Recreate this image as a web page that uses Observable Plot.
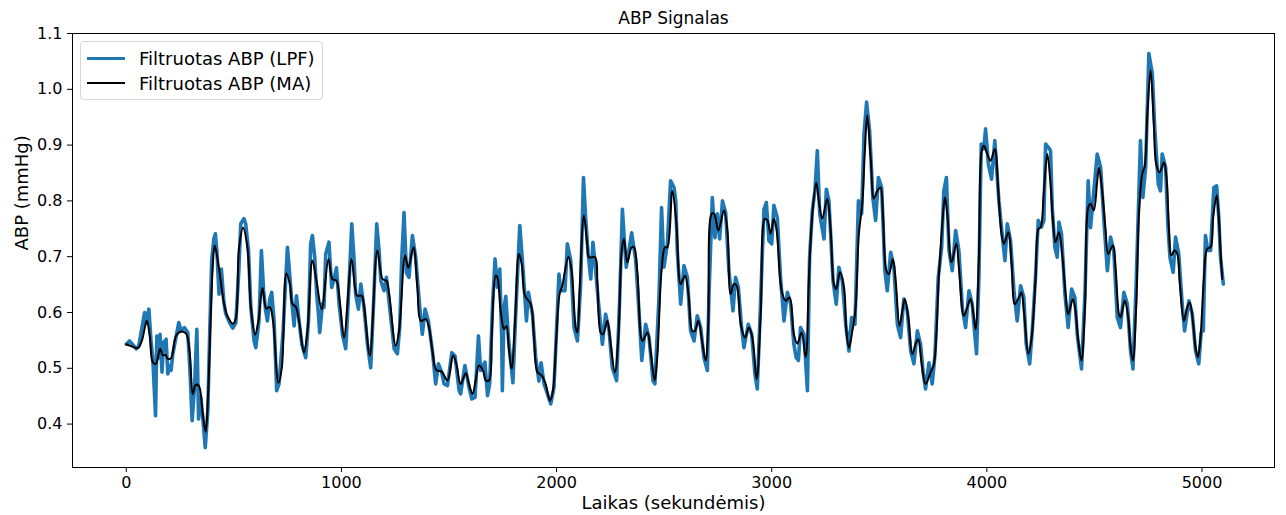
<!DOCTYPE html>
<html>
<head>
<meta charset="utf-8">
<script src="https://cdn.jsdelivr.net/npm/d3@7"></script>
<script src="https://cdn.jsdelivr.net/npm/@observablehq/plot@0.6"></script>
<style>
  body { margin: 0; background: #fff; font-family: "DejaVu Sans", sans-serif; }
  #chart { position: relative; width: 1286px; height: 515px; }
  .legend {
    position: absolute; left: 80px; top: 41px; width: 243px; height: 59px;
    box-sizing: border-box; border: 1px solid #d6d6d6; border-radius: 4px;
    background: rgba(255,255,255,0.8); font-size: 18px; color: #000;
  }
  .legend .row { position: absolute; left: 6px; height: 24px; display: flex; align-items: center; white-space: nowrap; }
  .legend .swatch { width: 38px; margin-right: 14px; }
</style>
</head>
<body>
<div id="chart"></div>
<script>
// Signal samples: [time (s), ABP value]
const lpfPoints = [[0,0.543],[15,0.549],[46,0.535],[58,0.540],[85,0.600],[92,0.580],[105,0.606],[115,0.549],[123,0.519],[136,0.415],[142,0.558],[151,0.519],[157,0.561],[166,0.493],[173,0.546],[185,0.552],[193,0.490],[201,0.505],[208,0.496],[216,0.525],[244,0.582],[255,0.567],[270,0.573],[286,0.564],[296,0.496],[306,0.406],[317,0.465],[328,0.570],[336,0.409],[346,0.448],[354,0.418],[367,0.358],[379,0.424],[388,0.567],[397,0.693],[407,0.732],[414,0.741],[421,0.711],[431,0.633],[442,0.678],[453,0.621],[462,0.598],[481,0.581],[495,0.572],[509,0.581],[523,0.675],[532,0.759],[547,0.768],[555,0.759],[568,0.711],[579,0.609],[594,0.549],[602,0.537],[617,0.585],[628,0.711],[638,0.640],[648,0.603],[656,0.585],[667,0.624],[676,0.636],[687,0.585],[699,0.460],[710,0.472],[729,0.567],[749,0.717],[757,0.681],[769,0.621],[780,0.576],[791,0.630],[803,0.585],[816,0.543],[834,0.519],[847,0.585],[857,0.723],[865,0.738],[876,0.699],[885,0.633],[893,0.598],[899,0.564],[912,0.616],[919,0.609],[927,0.705],[942,0.726],[955,0.645],[964,0.657],[977,0.680],[989,0.615],[1006,0.558],[1020,0.535],[1034,0.639],[1048,0.759],[1059,0.693],[1066,0.633],[1079,0.606],[1090,0.651],[1105,0.609],[1121,0.543],[1136,0.501],[1150,0.621],[1164,0.759],[1175,0.711],[1183,0.657],[1198,0.639],[1209,0.663],[1221,0.621],[1245,0.535],[1260,0.526],[1271,0.573],[1280,0.693],[1291,0.779],[1302,0.672],[1314,0.663],[1330,0.738],[1345,0.699],[1364,0.609],[1376,0.561],[1389,0.606],[1404,0.585],[1423,0.531],[1438,0.472],[1451,0.508],[1466,0.493],[1477,0.472],[1493,0.469],[1513,0.528],[1528,0.522],[1547,0.460],[1554,0.454],[1574,0.505],[1593,0.466],[1606,0.445],[1621,0.448],[1637,0.558],[1647,0.496],[1667,0.511],[1679,0.451],[1689,0.472],[1702,0.609],[1714,0.696],[1725,0.645],[1736,0.678],[1745,0.555],[1748,0.460],[1756,0.609],[1764,0.629],[1776,0.555],[1797,0.474],[1810,0.597],[1829,0.756],[1844,0.678],[1860,0.585],[1869,0.636],[1888,0.597],[1903,0.519],[1918,0.477],[1928,0.510],[1942,0.472],[1973,0.436],[1988,0.466],[1999,0.561],[2011,0.669],[2019,0.639],[2039,0.639],[2050,0.723],[2066,0.693],[2081,0.573],[2097,0.549],[2112,0.651],[2125,0.842],[2135,0.770],[2146,0.708],[2159,0.660],[2169,0.726],[2179,0.687],[2194,0.621],[2213,0.543],[2228,0.597],[2244,0.567],[2259,0.501],[2279,0.478],[2293,0.621],[2306,0.785],[2318,0.711],[2324,0.681],[2349,0.743],[2368,0.693],[2383,0.603],[2396,0.514],[2414,0.579],[2430,0.555],[2448,0.478],[2457,0.472],[2476,0.627],[2488,0.788],[2499,0.681],[2515,0.723],[2530,0.836],[2546,0.824],[2554,0.800],[2561,0.711],[2567,0.675],[2577,0.615],[2592,0.684],[2608,0.663],[2623,0.567],[2639,0.549],[2654,0.594],[2670,0.573],[2685,0.519],[2701,0.496],[2708,0.627],[2724,0.806],[2736,0.734],[2747,0.777],[2758,0.732],[2771,0.800],[2786,0.779],[2801,0.675],[2820,0.603],[2832,0.663],[2845,0.645],[2860,0.573],[2871,0.537],[2891,0.579],[2907,0.561],[2922,0.490],[2933,0.463],[2949,0.627],[2964,0.785],[2975,0.797],[2987,0.729],[3000,0.723],[3010,0.792],[3026,0.770],[3041,0.663],[3057,0.585],[3073,0.636],[3088,0.615],[3103,0.543],[3114,0.519],[3124,0.514],[3134,0.573],[3150,0.561],[3166,0.460],[3176,0.699],[3189,0.783],[3201,0.818],[3212,0.890],[3223,0.777],[3243,0.732],[3254,0.821],[3266,0.800],[3285,0.657],[3300,0.615],[3312,0.681],[3328,0.657],[3344,0.579],[3359,0.531],[3371,0.591],[3387,0.579],[3403,0.800],[3418,0.777],[3429,0.920],[3441,0.977],[3455,0.926],[3470,0.806],[3483,0.765],[3496,0.842],[3511,0.824],[3526,0.675],[3537,0.639],[3553,0.708],[3568,0.681],[3584,0.579],[3599,0.555],[3614,0.624],[3630,0.603],[3646,0.531],[3661,0.508],[3677,0.567],[3692,0.543],[3704,0.492],[3715,0.463],[3731,0.510],[3746,0.472],[3759,0.525],[3774,0.663],[3790,0.717],[3800,0.818],[3812,0.842],[3824,0.711],[3839,0.675],[3855,0.747],[3870,0.711],[3886,0.609],[3901,0.573],[3917,0.639],[3932,0.615],[3944,0.561],[3952,0.526],[3963,0.663],[3974,0.902],[3986,0.893],[3994,0.929],[4007,0.866],[4022,0.839],[4037,0.908],[4056,0.800],[4068,0.752],[4084,0.693],[4095,0.759],[4110,0.729],[4126,0.639],[4141,0.585],[4157,0.648],[4172,0.627],[4183,0.543],[4199,0.508],[4211,0.567],[4226,0.663],[4239,0.765],[4254,0.753],[4265,0.765],[4273,0.902],[4286,0.896],[4296,0.890],[4304,0.788],[4316,0.717],[4327,0.699],[4335,0.762],[4347,0.741],[4363,0.633],[4378,0.573],[4394,0.642],[4409,0.627],[4420,0.561],[4440,0.499],[4456,0.633],[4471,0.836],[4482,0.752],[4493,0.800],[4513,0.884],[4529,0.860],[4544,0.765],[4560,0.675],[4575,0.735],[4590,0.711],[4606,0.591],[4621,0.573],[4637,0.636],[4653,0.615],[4668,0.531],[4679,0.499],[4694,0.651],[4714,0.908],[4725,0.806],[4738,0.860],[4753,1.064],[4769,1.028],[4781,0.926],[4797,0.830],[4807,0.818],[4815,0.884],[4831,0.860],[4841,0.759],[4851,0.699],[4866,0.672],[4877,0.735],[4892,0.705],[4908,0.615],[4919,0.567],[4939,0.621],[4955,0.597],[4970,0.531],[4985,0.508],[4996,0.564],[5006,0.567],[5016,0.738],[5027,0.711],[5040,0.711],[5055,0.824],[5068,0.827],[5078,0.771],[5086,0.699],[5099,0.651]];

const maPoints = [[0,0.543],[21,0.540],[53,0.536],[72,0.549],[95,0.585],[109,0.558],[123,0.511],[138,0.508],[157,0.535],[170,0.523],[182,0.524],[193,0.517],[208,0.518],[231,0.558],[255,0.566],[278,0.562],[294,0.531],[309,0.454],[322,0.470],[337,0.469],[355,0.420],[369,0.386],[379,0.442],[393,0.598],[402,0.684],[411,0.720],[431,0.679],[454,0.616],[470,0.594],[496,0.580],[509,0.589],[524,0.716],[543,0.752],[563,0.716],[579,0.609],[599,0.560],[614,0.585],[633,0.644],[651,0.607],[667,0.610],[682,0.585],[707,0.474],[723,0.501],[744,0.670],[760,0.652],[772,0.616],[788,0.610],[803,0.585],[826,0.528],[842,0.567],[865,0.693],[884,0.657],[908,0.606],[940,0.696],[958,0.660],[977,0.657],[992,0.621],[1012,0.555],[1047,0.696],[1063,0.645],[1074,0.630],[1094,0.630],[1105,0.612],[1132,0.523],[1167,0.711],[1191,0.660],[1209,0.657],[1221,0.636],[1252,0.540],[1268,0.567],[1296,0.702],[1311,0.680],[1335,0.717],[1353,0.645],[1369,0.585],[1392,0.588],[1407,0.573],[1423,0.531],[1441,0.497],[1466,0.494],[1493,0.478],[1519,0.523],[1534,0.508],[1554,0.472],[1578,0.491],[1593,0.472],[1609,0.454],[1624,0.478],[1639,0.505],[1658,0.496],[1671,0.478],[1686,0.478],[1699,0.561],[1717,0.666],[1725,0.663],[1740,0.603],[1756,0.570],[1767,0.576],[1779,0.531],[1791,0.499],[1807,0.585],[1825,0.705],[1838,0.687],[1853,0.630],[1880,0.615],[1895,0.555],[1911,0.493],[1931,0.487],[1949,0.472],[1969,0.442],[1983,0.460],[1999,0.555],[2014,0.633],[2027,0.648],[2039,0.675],[2055,0.700],[2070,0.675],[2089,0.573],[2097,0.564],[2107,0.639],[2127,0.774],[2143,0.720],[2151,0.699],[2179,0.699],[2190,0.651],[2205,0.564],[2216,0.561],[2236,0.585],[2248,0.555],[2271,0.493],[2287,0.555],[2303,0.711],[2313,0.732],[2329,0.690],[2349,0.717],[2360,0.717],[2376,0.669],[2399,0.549],[2422,0.564],[2437,0.531],[2456,0.478],[2468,0.520],[2488,0.675],[2504,0.717],[2515,0.717],[2538,0.818],[2557,0.759],[2577,0.651],[2597,0.666],[2613,0.633],[2631,0.567],[2643,0.567],[2659,0.585],[2678,0.544],[2693,0.514],[2705,0.579],[2721,0.777],[2732,0.777],[2752,0.747],[2778,0.783],[2794,0.747],[2809,0.633],[2824,0.651],[2837,0.648],[2856,0.579],[2876,0.555],[2894,0.573],[2910,0.555],[2930,0.481],[2949,0.597],[2968,0.768],[2980,0.765],[2995,0.741],[3010,0.768],[3023,0.747],[3046,0.639],[3065,0.621],[3083,0.627],[3103,0.561],[3119,0.544],[3139,0.564],[3158,0.520],[3173,0.663],[3189,0.777],[3207,0.833],[3219,0.800],[3235,0.768],[3258,0.804],[3274,0.747],[3289,0.651],[3300,0.642],[3317,0.672],[3336,0.645],[3347,0.567],[3359,0.537],[3375,0.567],[3390,0.609],[3405,0.741],[3421,0.795],[3433,0.890],[3444,0.953],[3460,0.878],[3475,0.804],[3491,0.818],[3506,0.824],[3517,0.777],[3533,0.675],[3545,0.669],[3563,0.696],[3576,0.657],[3594,0.576],[3607,0.603],[3619,0.624],[3635,0.591],[3653,0.526],[3669,0.544],[3681,0.552],[3697,0.508],[3715,0.472],[3739,0.493],[3754,0.508],[3777,0.666],[3793,0.759],[3805,0.806],[3816,0.777],[3836,0.690],[3858,0.723],[3870,0.681],[3893,0.594],[3909,0.609],[3924,0.624],[3940,0.591],[3948,0.570],[3963,0.699],[3976,0.890],[3986,0.899],[4002,0.884],[4017,0.872],[4037,0.893],[4053,0.818],[4068,0.741],[4079,0.723],[4100,0.744],[4115,0.687],[4130,0.615],[4149,0.627],[4161,0.636],[4172,0.603],[4193,0.526],[4208,0.555],[4226,0.657],[4240,0.750],[4250,0.753],[4265,0.818],[4281,0.884],[4296,0.830],[4307,0.765],[4319,0.726],[4335,0.744],[4350,0.705],[4366,0.633],[4378,0.597],[4400,0.624],[4412,0.603],[4425,0.549],[4440,0.514],[4456,0.609],[4471,0.788],[4482,0.795],[4497,0.783],[4513,0.836],[4521,0.860],[4536,0.818],[4552,0.747],[4564,0.705],[4586,0.720],[4598,0.681],[4614,0.597],[4621,0.591],[4641,0.621],[4657,0.591],[4668,0.537],[4679,0.514],[4694,0.609],[4707,0.777],[4722,0.848],[4734,0.863],[4746,0.956],[4761,1.034],[4776,0.938],[4787,0.866],[4803,0.851],[4823,0.869],[4835,0.842],[4846,0.753],[4857,0.702],[4872,0.711],[4885,0.705],[4897,0.651],[4916,0.585],[4931,0.609],[4943,0.618],[4959,0.579],[4970,0.537],[4981,0.520],[4993,0.555],[5009,0.663],[5024,0.714],[5040,0.717],[5052,0.771],[5068,0.810],[5078,0.771],[5086,0.711],[5094,0.660]];

const xTicks = [0, 1000, 2000, 3000, 4000, 5000];
const yTicks = [0.4, 0.5, 0.6, 0.7, 0.8, 0.9, 1.0, 1.1];
const seriesNames = ["Filtruotas ABP (LPF)", "Filtruotas ABP (MA)"];
const seriesColors = ["#1f77b4", "#000000"];
const seriesWidths = [3.6, 2];
const titleText = "ABP Signalas";
const xLabelText = "Laikas (sekundėmis)";
const yLabelText = "ABP (mmHg)";

const lpfRows = lpfPoints.map(([t, v]) => ({t, v}));
const maRows = maPoints.map(([t, v]) => ({t, v}));

const chart = Plot.plot({
  width: 1286,
  height: 515,
  marginLeft: 72,
  marginRight: 12,
  marginTop: 33,
  marginBottom: 48,
  style: {fontFamily: "DejaVu Sans", fontSize: "16px", background: "white", color: "black"},
  x: {domain: [-250, 5337]},
  y: {domain: [0.3222, 1.1]},
  marks: [
    Plot.line(lpfRows, {x: "t", y: "v", stroke: seriesColors[0], strokeWidth: seriesWidths[0], strokeLinejoin: "round"}),
    Plot.line(maRows, {x: "t", y: "v", stroke: seriesColors[1], strokeWidth: seriesWidths[1], curve: "catmull-rom"}),
    Plot.frame({stroke: "black", strokeWidth: 1}),
    Plot.axisX({ticks: xTicks, tickFormat: d3.format("d"), tickSize: 5, tickPadding: 4, label: null}),
    Plot.axisY({ticks: yTicks, tickFormat: d3.format(".1f"), tickSize: 5, tickPadding: 5, label: null}),
    Plot.text([xLabelText], {text: d => d, frameAnchor: "bottom", lineAnchor: "middle", dy: 36, fontSize: 18}),
    Plot.text([yLabelText], {text: d => d, frameAnchor: "left", lineAnchor: "middle", dx: -50, rotate: -90, fontSize: 18}),
    Plot.text([titleText], {text: d => d, frameAnchor: "top", lineAnchor: "middle", dy: -15, fontSize: 17})
  ]
});

const host = document.getElementById("chart");
host.appendChild(chart);

// Legend box in the upper-left corner of the plot area
const legend = document.createElement("div");
legend.className = "legend";
seriesNames.forEach((name, i) => {
  const row = document.createElement("div");
  row.className = "row";
  row.style.top = (4 + i * 25) + "px";
  const sw = document.createElement("span");
  sw.className = "swatch";
  sw.style.borderTop = `${i === 0 ? 3.5 : 2}px solid ${seriesColors[i]}`;
  const label = document.createElement("span");
  label.textContent = name;
  row.appendChild(sw);
  row.appendChild(label);
  legend.appendChild(row);
});
host.appendChild(legend);
</script>
</body>
</html>
